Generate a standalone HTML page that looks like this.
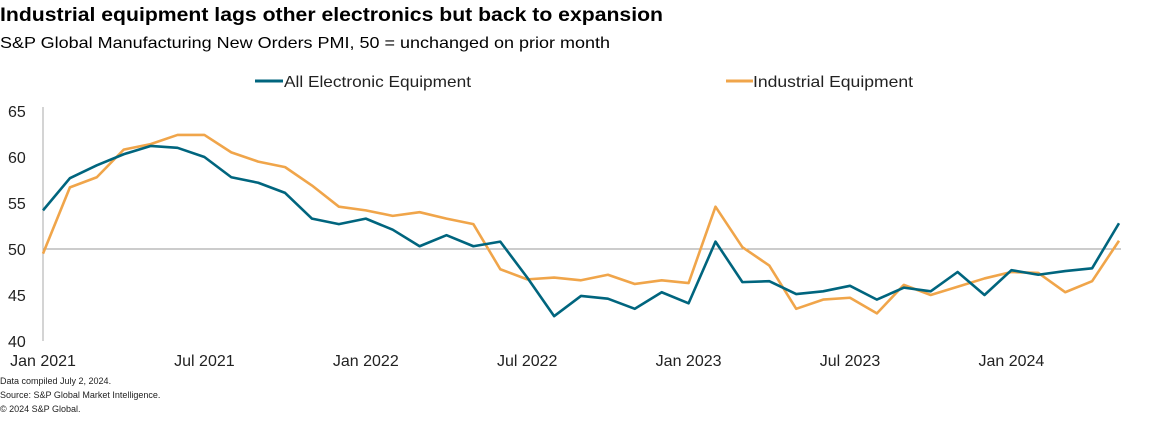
<!DOCTYPE html>
<html><head><meta charset="utf-8"><style>
body{margin:0;background:#fff;width:1162px;height:416px;overflow:hidden;font-family:"Liberation Sans",Arial,sans-serif}
svg text{font-family:"Liberation Sans",Arial,sans-serif}
</style></head><body>
<svg id="c" width="1162" height="416">
<text x="0" y="21" font-size="19" font-weight="bold" fill="#000" textLength="663" lengthAdjust="spacingAndGlyphs">Industrial equipment lags other electronics but back to expansion</text>
<text x="0" y="48" font-size="16" fill="#000" textLength="610" lengthAdjust="spacingAndGlyphs">S&amp;P Global Manufacturing New Orders PMI, 50 = unchanged on prior month</text>
<g>
<line x1="255" y1="81" x2="283" y2="81" stroke="#00657e" stroke-width="3"/>
<text x="284" y="87" font-size="16" fill="#222" textLength="187" lengthAdjust="spacingAndGlyphs">All Electronic Equipment</text>
<line x1="726" y1="81" x2="753" y2="81" stroke="#f0a54a" stroke-width="3"/>
<text x="753" y="87" font-size="16" fill="#222" textLength="160" lengthAdjust="spacingAndGlyphs">Industrial Equipment</text>
</g>
<g id="axes"></g>
<g id="series"></g>
<text x="0" y="384" font-size="9" fill="#222">Data compiled July 2, 2024.</text>
<text x="0" y="398" font-size="9" fill="#222">Source: S&amp;P Global Market Intelligence.</text>
<text x="0" y="412" font-size="9" fill="#222">© 2024 S&amp;P Global.</text>
</svg>
<script>
const months = ["Jan 2021","Feb 2021","Mar 2021","Apr 2021","May 2021","Jun 2021","Jul 2021","Aug 2021","Sep 2021","Oct 2021","Nov 2021","Dec 2021","Jan 2022","Feb 2022","Mar 2022","Apr 2022","May 2022","Jun 2022","Jul 2022","Aug 2022","Sep 2022","Oct 2022","Nov 2022","Dec 2022","Jan 2023","Feb 2023","Mar 2023","Apr 2023","May 2023","Jun 2023","Jul 2023","Aug 2023","Sep 2023","Oct 2023","Nov 2023","Dec 2023","Jan 2024","Feb 2024","Mar 2024","Apr 2024","May 2024"];
const allElectronic = [54.2,57.7,59.1,60.3,61.2,61.0,60.0,57.8,57.2,56.1,53.3,52.7,53.3,52.1,50.3,51.5,50.3,50.8,46.9,42.7,44.9,44.6,43.5,45.3,44.1,50.8,46.4,46.5,45.1,45.4,46.0,44.5,45.8,45.4,47.5,45.0,47.7,47.2,47.6,47.9,52.8];
const industrial = [49.5,56.7,57.8,60.8,61.4,62.4,62.4,60.5,59.5,58.9,56.9,54.6,54.2,53.6,54.0,53.3,52.7,47.8,46.7,46.9,46.6,47.2,46.2,46.6,46.3,54.6,50.2,48.2,43.5,44.5,44.7,43.0,46.1,45.0,45.9,46.8,47.5,47.4,45.3,46.5,50.9];
const yTicks = [40,45,50,55,60,65];
const xTickLabels = ["Jan 2021","Jul 2021","Jan 2022","Jul 2022","Jan 2023","Jul 2023","Jan 2024"];

const NS="http://www.w3.org/2000/svg";
const x0=43, dx=26.9, yTop=111, yBot=341, vMin=40, vMax=65;
const xs=i=>x0+i*dx;
const ys=v=>yBot-(v-vMin)/(vMax-vMin)*(yBot-yTop);
function mk(tag,attrs,parent){const e=document.createElementNS(NS,tag);for(const k in attrs)e.setAttribute(k,attrs[k]);parent.appendChild(e);return e;}
const ax=document.getElementById('axes');
const yl=mk('line',{x1:x0,x2:x0,y1:yTop-4,y2:yBot,stroke:'#aaa','stroke-width':1},ax);


const gl=mk('line',{x1:x0,x2:xs(months.length-1)+2,y1:ys(50),y2:ys(50),stroke:'#999','stroke-width':1},ax);


yTicks.forEach(v=>{
  const t=mk('text',{x:8,y:ys(v)+6,'font-size':16,fill:'#222'},ax);
  t.textContent=v;
  
  
});
xTickLabels.forEach(l=>{
  const i=months.indexOf(l);
  const t=mk('text',{x:xs(i),y:366,'font-size':16,fill:'#222','text-anchor':'middle'},ax);
  t.textContent=l;
  
  
});
const sg=document.getElementById('series');
function line(data,color,name){
  const p=mk('polyline',{points:data.map((v,i)=>xs(i)+','+ys(v)).join(' '),fill:'none',stroke:color,'stroke-width':2.6,'stroke-linejoin':'round'},sg);
  
  
}
line(industrial,'#f0a54a','industrial-equipment-line');
line(allElectronic,'#00657e','all-electronic-equipment-line');
</script>
</body></html>
